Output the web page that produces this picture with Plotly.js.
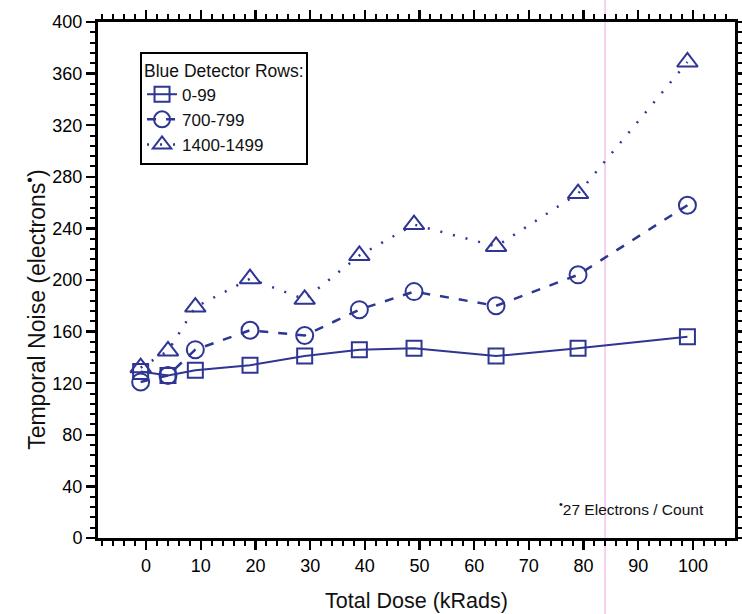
<!DOCTYPE html>
<html>
<head>
<meta charset="utf-8">
<script src="https://cdn.plot.ly/plotly-3.0.1.min.js"></script>
<style>html,body{margin:0;padding:0;background:#fff;}#chart{width:742px;height:614px;}</style>
</head>
<body>
<div id="chart"></div>
<script>
const doseX = [-1, 4, 9, 19, 29, 39, 49, 64, 79, 99];
const rows0_99 = [129, 126, 130, 134, 141, 146, 147, 141, 147, 156];
const rows700_799 = [121, 126, 146, 161, 157, 177, 191, 180, 204, 258];
const rows1400_1499 = [132, 145, 179, 201, 185, 219, 243, 226, 267, 369];
const seriesNames = ["0-99", "700-799", "1400-1499"];
const xTickVals = [0, 10, 20, 30, 40, 50, 60, 70, 80, 90, 100];
const yTickVals = [0, 40, 80, 120, 160, 200, 240, 280, 320, 360, 400];

const blue = '#2e3592';
const font = 'Liberation Sans, Arial, sans-serif';

const traces = [
  {x: doseX, y: rows0_99, name: seriesNames[0], mode: 'lines+markers',
   line: {color: blue, width: 2, dash: 'solid'},
   marker: {symbol: 'square-open', size: 15, color: blue, line: {width: 2, color: blue}}},
  {x: doseX, y: rows700_799, name: seriesNames[1], mode: 'lines+markers',
   line: {color: blue, width: 2.5, dash: '9px,10px'},
   marker: {symbol: 'circle-open', size: 17, color: blue, line: {width: 2, color: blue}}},
  {x: doseX, y: rows1400_1499, name: seriesNames[2], mode: 'lines+markers',
   line: {color: blue, width: 2.5, dash: '2px,11px'},
   marker: {symbol: 'triangle-up-open', size: 18, color: blue, line: {width: 2, color: blue}}}
];

const axisCommon = {
  showline: true, linecolor: 'black', linewidth: 3, mirror: 'ticks',
  ticks: 'outside', ticklen: 9, tickwidth: 2.5, tickcolor: 'black',
  showgrid: false, zeroline: false,
  tickfont: {family: font, size: 18, color: '#000'}
};

const layout = {
  width: 742, height: 614,
  margin: {l: 98, r: 7, t: 22, b: 76},
  paper_bgcolor: 'white', plot_bgcolor: 'white',
  showlegend: true,
  hovermode: false,
  xaxis: Object.assign({}, axisCommon, {
    range: [-8.8, 107.7], tickvals: xTickVals,
    minor: {dtick: 2, tick0: 0, ticks: 'outside', ticklen: 5, tickwidth: 2, tickcolor: 'black'},
    title: {text: 'Total Dose (kRads)', font: {family: font, size: 21.5, color: '#111'}, standoff: 19}
  }),
  yaxis: Object.assign({}, axisCommon, {
    range: [0, 400], tickvals: yTickVals,
    minor: {dtick: 8, tick0: 0, ticks: 'outside', ticklen: 5, tickwidth: 2, tickcolor: 'black'},
    title: {text: ''}
  }),
  legend: {
    x: 0.066, y: 0.942, xanchor: 'left', yanchor: 'top',
    bgcolor: 'white', bordercolor: 'black', borderwidth: 2,
    font: {family: font, size: 17, color: '#111'},
    title: {text: 'Blue Detector Rows:', font: {family: font, size: 17.5, color: '#111'}},
    tracegroupgap: 0, itemwidth: 30
  },
  annotations: [{
    xref: 'paper', yref: 'paper', x: -0.099, y: 0.442, xanchor: 'center', yanchor: 'middle',
    textangle: -90, showarrow: false,
    text: 'Temporal Noise (electrons<sup>•</sup>)',
    font: {family: font, size: 23, color: '#111'}
  }, {
    xref: 'paper', yref: 'paper', x: 0.955, y: 0.058, xanchor: 'right', yanchor: 'middle',
    text: '<sup>•</sup>27 Electrons / Count', showarrow: false,
    font: {family: font, size: 15.5, color: '#111'}
  }],
  shapes: [{
    type: 'line', xref: 'paper', yref: 'paper', x0: 0.796, x1: 0.796, y0: -0.15, y1: 1.05,
    line: {color: 'rgba(240,150,220,0.6)', width: 1.5}, layer: 'below'
  }]
};

Plotly.newPlot('chart', traces, layout, {displayModeBar: false, staticPlot: true});
</script>
</body>
</html>
